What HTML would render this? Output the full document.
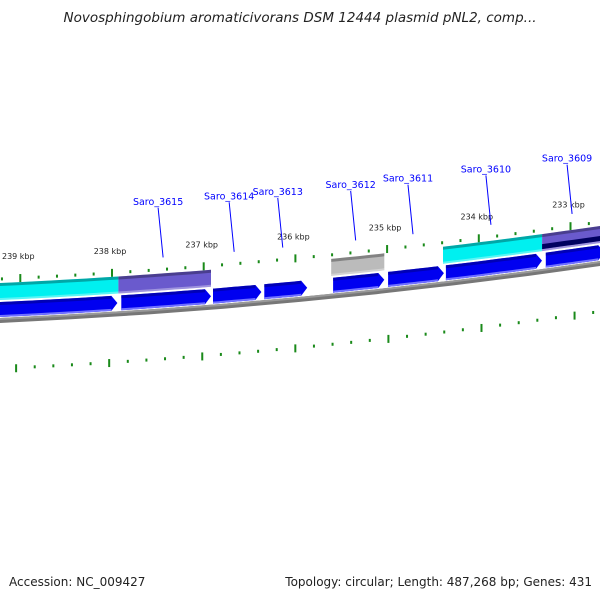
<!DOCTYPE html>
<html><head><meta charset="utf-8"><style>
html,body{margin:0;padding:0;background:#fff;width:600px;height:600px;overflow:hidden}
svg{display:block}
</style></head><body>
<svg id="map" width="600" height="600" viewBox="0 0 600 600" xmlns="http://www.w3.org/2000/svg">
<rect x="0" y="0" width="600" height="600" fill="#fff"/>
<text x="300" y="22" text-anchor="middle" font-family="DejaVu Sans, sans-serif" font-style="italic" font-size="13.5" fill="#222">Novosphingobium aromaticivorans DSM 12444 plasmid pNL2, comp...</text>
<g id="ticks"></g><g id="features"></g><g id="labels"></g>
<text x="9" y="586" font-family="DejaVu Sans, sans-serif" font-size="12" fill="#222">Accession: NC_009427</text>
<text x="592" y="586" text-anchor="end" font-family="DejaVu Sans, sans-serif" font-size="12" fill="#222">Topology: circular; Length: 487,268 bp; Genes: 431</text>
</svg>
<script>
// gene arrows (strand track), kbp start/end (arrow points to lower kbp, i.e. right)
const geneStart=[239.4,237.91,236.91,236.35,235.6,235.0,234.37,233.28];
const geneEnd  =[237.93,236.91,236.36,235.86,235.02,234.37,233.3,232.62];
// COG-coloured track
const cogStart=[239.4,237.93,235.61,234.39,233.31];
const cogEnd  =[237.93,236.92,235.03,233.31,232.62];
const cogColor=['#00f0f0','#6a5acd','#bbbbbb','#00f0f0','#6a5acd'];
// labels
const labelNames=['Saro_3615','Saro_3614','Saro_3613','Saro_3612','Saro_3611','Saro_3610','Saro_3609'];
const labelGene=[1,2,3,4,5,6,7];
// scale ticks
const majorTicks=[239,238,237,236,235,234,233];
const kbpMin=232.4, kbpMax=239.8;

const NS='http://www.w3.org/2000/svg';
function xOf(k){return 112+(238-k)*91.7;}
function yBase(x){return 320-0.0454*x-0.0000827*x*x;}
function el(tag,attrs,parent){const e=document.createElementNS(NS,tag);for(const a in attrs)e.setAttribute(a,attrs[a]);parent.appendChild(e);return e;}
function band(x1,x2,o1,o2){
  const pts=[];const n=8;
  for(let i=0;i<=n;i++){const x=x1+(x2-x1)*i/n;pts.push(x.toFixed(1)+','+(yBase(x)-o2).toFixed(1));}
  for(let i=n;i>=0;i--){const x=x1+(x2-x1)*i/n;pts.push(x.toFixed(1)+','+(yBase(x)-o1).toFixed(1));}
  return pts.join(' ');
}
const ticks=document.getElementById('ticks'),feat=document.getElementById('features'),labs=document.getElementById('labels');

let bb=el('polygon',{points:band(-5,605,-3,2),fill:'#777'},feat);


let bbh=el('polygon',{points:band(-5,605,0,2),fill:'#999'},feat);



for(let k=Math.ceil(kbpMin*5)/5;k<=kbpMax;k=Math.round((k+0.2)*10)/10){
  const isMajor=Math.abs(k-Math.round(k))<0.01;
  const x=xOf(k),y=yBase(x);
  const t=el('rect',{x:x-1,y:isMajor?y-45:y-42.5,width:2,height:isMajor?8:3,fill:'#1a8a1a'},ticks);
  
  
  const xi=x+(x-300)*0.015;const yi=yBase(xi);
  const t2=el('rect',{x:xi-1,y:isMajor?yi+45:yi+47,width:2,height:isMajor?8:3,fill:'#1a8a1a'},ticks);
  
  
}
majorTicks.forEach(k=>{
  const x=xOf(k)-2,y=yBase(x);
  const t=el('text',{x:x,y:y-60,'text-anchor':'middle','font-family':'DejaVu Sans, sans-serif','font-size':'8',fill:'#222'},ticks);
  t.textContent=k+' kbp';
  
  
});

cogStart.forEach((s,i)=>{
  const x1=xOf(s),x2=xOf(cogEnd[i]);
  const g=el('g',{},feat);
  
  
  el('polygon',{points:band(x1,x2,20,37),fill:cogColor[i]},g);
  el('polygon',{points:band(x1,x2,34,37),fill:'#000','fill-opacity':'0.3'},g);
  el('polygon',{points:band(x1,x2,20,22),fill:'#fff','fill-opacity':'0.35'},g);
});
{const x1=xOf(cogStart[4]),x2=xOf(cogEnd[4]);
 const d=el('polygon',{points:band(x1,x2,22,27),fill:'#000060'},feat);
 
 }

geneStart.forEach((s,i)=>{
  const x1=xOf(s)+1,x2=xOf(geneEnd[i])-1;
  const tip=6,xb=x2-tip;
  const yt=yBase(x2);
  const body=band(x1,xb,3,18).split(' ');
  const n=body.length/2;
  const top=body.slice(0,n),bot=body.slice(n);
  const pts=top.concat([x2.toFixed(1)+','+(yt-10.5).toFixed(1)]).concat(bot).join(' ');
  const g=el('g',{},feat);
  
  
  el('polygon',{points:pts,fill:'#0000f0'},g);
  el('polygon',{points:band(x1,xb,15,18),fill:'#000090','fill-opacity':'0.6'},g);
  el('polygon',{points:band(x1,xb,3,5),fill:'#7070ff'},g);
});

labelNames.forEach((name,i)=>{
  const gi=labelGene[i];
  const mid=(xOf(geneStart[gi])+xOf(geneEnd[gi]))/2;
  const xb=mid-3,xt=mid-8;
  const ln=el('line',{x1:xt,y1:yBase(xt)-103,x2:xb,y2:yBase(xb)-53,stroke:'#0000ff','stroke-width':'1'},labs);
  
  
  const t=el('text',{x:xt,y:yBase(xt)-106,'text-anchor':'middle','font-family':'DejaVu Sans, sans-serif','font-size':'9.5',fill:'#0000ff'},labs);
  t.textContent=name;
  
  
});
</script>
</body></html>
